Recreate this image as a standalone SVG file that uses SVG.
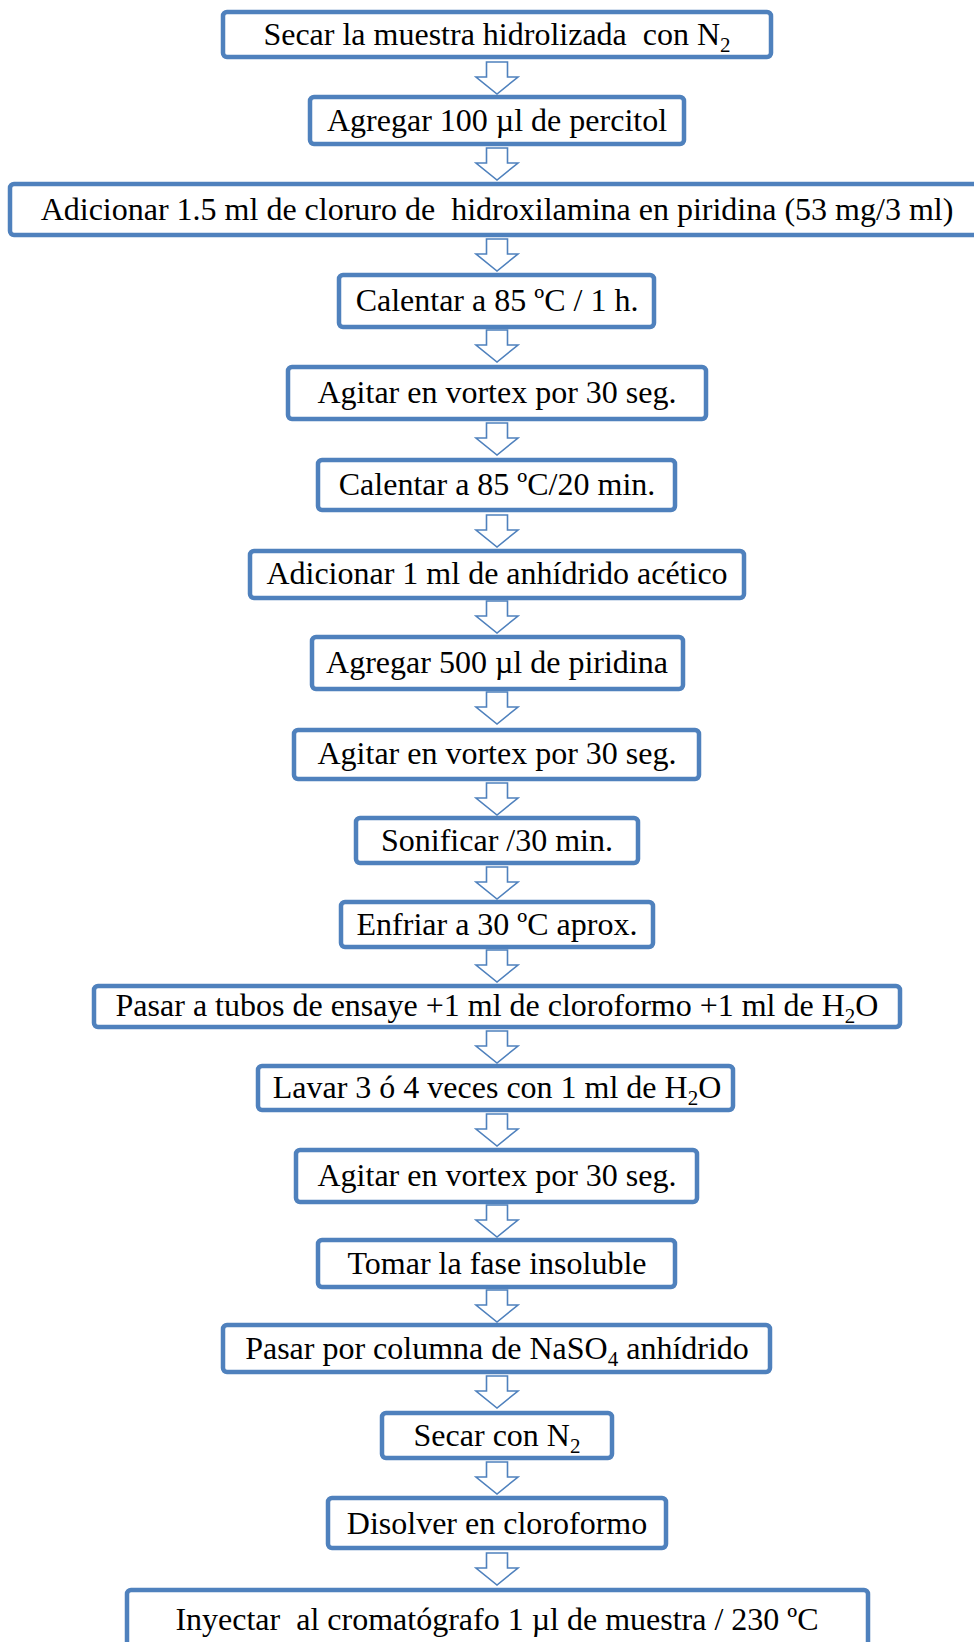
<svg xmlns="http://www.w3.org/2000/svg" width="974" height="1642" viewBox="0 0 974 1642">
<style>
.box{fill:#ffffff;stroke:#4F81BD;stroke-width:4.5}
.arr{fill:#ffffff;stroke:#4F81BD;stroke-width:1.6;stroke-linejoin:miter}
.t{font-family:"Liberation Serif","Times New Roman",serif;font-size:32px;fill:#000;text-anchor:middle;white-space:pre}
.sub{font-size:21px}
</style>
<rect width="974" height="1642" fill="#ffffff"/>
<defs>
<path id="ar" d="M-10.5,0 H10.5 V15 H21 L0,32 L-21,15 H-10.5 Z"/>
</defs>
<g id="connectors">
<use href="#ar" class="arr" x="497" y="62"/>
<use href="#ar" class="arr" x="497" y="148"/>
<use href="#ar" class="arr" x="497" y="239"/>
<use href="#ar" class="arr" x="497" y="330"/>
<use href="#ar" class="arr" x="497" y="423"/>
<use href="#ar" class="arr" x="497" y="515"/>
<use href="#ar" class="arr" x="497" y="601"/>
<use href="#ar" class="arr" x="497" y="692"/>
<use href="#ar" class="arr" x="497" y="783"/>
<use href="#ar" class="arr" x="497" y="867"/>
<use href="#ar" class="arr" x="497" y="950"/>
<use href="#ar" class="arr" x="497" y="1031"/>
<use href="#ar" class="arr" x="497" y="1114"/>
<use href="#ar" class="arr" x="497" y="1205"/>
<use href="#ar" class="arr" x="497" y="1290"/>
<use href="#ar" class="arr" x="497" y="1376"/>
<use href="#ar" class="arr" x="497" y="1462"/>
<use href="#ar" class="arr" x="497" y="1553"/>
</g>
<g id="n1"><rect class="box" x="223" y="12" width="548" height="45" rx="4"/><text class="t" x="497" y="45">Secar la muestra hidrolizada  con N<tspan class="sub" dy="7">2</tspan></text></g>
<g id="n2"><rect class="box" x="310" y="97" width="374" height="47" rx="4"/><text class="t" x="497" y="131">Agregar 100 µl de percitol</text></g>
<g id="n3"><rect class="box" x="10" y="184" width="990" height="51" rx="4"/><text class="t" x="497" y="220">Adicionar 1.5 ml de cloruro de  hidroxilamina en piridina (53 mg/3 ml)</text></g>
<g id="n4"><rect class="box" x="339" y="275" width="315" height="52" rx="4"/><text class="t" x="497" y="311">Calentar a 85 ºC / 1 h.</text></g>
<g id="n5"><rect class="box" x="288" y="367" width="418" height="52" rx="4"/><text class="t" x="497" y="403">Agitar en vortex por 30 seg.</text></g>
<g id="n6"><rect class="box" x="318" y="460" width="357" height="50" rx="4"/><text class="t" x="497" y="495">Calentar a 85 ºC/20 min.</text></g>
<g id="n7"><rect class="box" x="250" y="551" width="494" height="47" rx="4"/><text class="t" x="497" y="584">Adicionar 1 ml de anhídrido acético</text></g>
<g id="n8"><rect class="box" x="312" y="637" width="371" height="52" rx="4"/><text class="t" x="497" y="673">Agregar 500 µl de piridina</text></g>
<g id="n9"><rect class="box" x="294" y="730" width="405" height="49" rx="4"/><text class="t" x="497" y="764">Agitar en vortex por 30 seg.</text></g>
<g id="n10"><rect class="box" x="356" y="818" width="282" height="45" rx="4"/><text class="t" x="497" y="851">Sonificar /30 min.</text></g>
<g id="n11"><rect class="box" x="341" y="902" width="312" height="45" rx="4"/><text class="t" x="497" y="935">Enfriar a 30 ºC aprox.</text></g>
<g id="n12"><rect class="box" x="94" y="986" width="806" height="41" rx="4"/><text class="t" x="497" y="1016">Pasar a tubos de ensaye +1 ml de cloroformo +1 ml de H<tspan class="sub" dy="7">2</tspan><tspan dy="-7">O</tspan></text></g>
<g id="n13"><rect class="box" x="258" y="1066" width="475" height="44" rx="4"/><text class="t" x="497" y="1098">Lavar 3 ó 4 veces con 1 ml de H<tspan class="sub" dy="7">2</tspan><tspan dy="-7">O</tspan></text></g>
<g id="n14"><rect class="box" x="296" y="1150" width="401" height="52" rx="4"/><text class="t" x="497" y="1186">Agitar en vortex por 30 seg.</text></g>
<g id="n15"><rect class="box" x="318" y="1240" width="357" height="47" rx="4"/><text class="t" x="497" y="1274">Tomar la fase insoluble</text></g>
<g id="n16"><rect class="box" x="223" y="1325" width="547" height="47" rx="4"/><text class="t" x="497" y="1359">Pasar por columna de NaSO<tspan class="sub" dy="7">4</tspan><tspan dy="-7"> anhídrido</tspan></text></g>
<g id="n17"><rect class="box" x="382" y="1413" width="230" height="45" rx="4"/><text class="t" x="497" y="1446">Secar con N<tspan class="sub" dy="7">2</tspan></text></g>
<g id="n18"><rect class="box" x="328" y="1498" width="338" height="50" rx="4"/><text class="t" x="497" y="1534">Disolver en cloroformo</text></g>
<g id="n19"><rect class="box" x="127" y="1590" width="741" height="70" rx="4"/><text class="t" x="497" y="1630">Inyectar  al cromatógrafo 1 µl de muestra / 230 ºC</text></g>
</svg>
